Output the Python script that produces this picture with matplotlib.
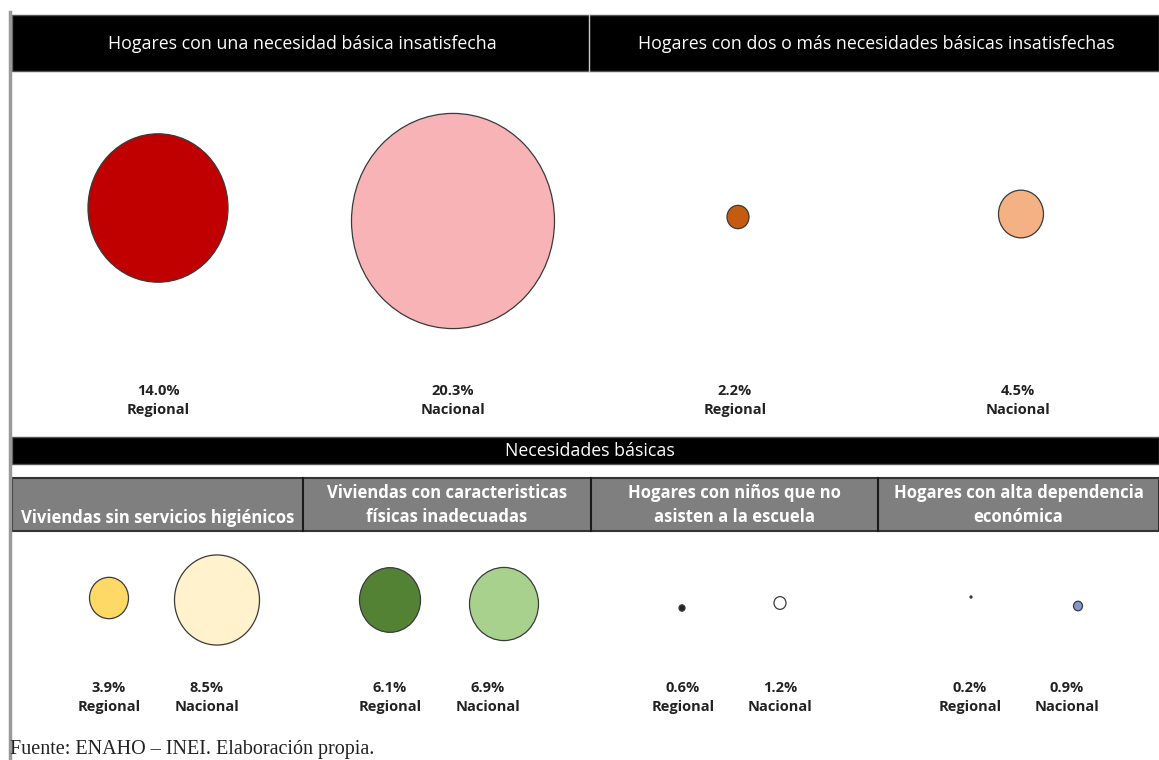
import matplotlib
matplotlib.use("Agg")
import matplotlib.pyplot as plt
from matplotlib import font_manager
from matplotlib.patches import Ellipse, Rectangle

# data (percent of households)
top_titles = ["Hogares con una necesidad básica insatisfecha",
              "Hogares con dos o más necesidades básicas insatisfechas"]
top_values = [14.0, 20.3, 2.2, 4.5]
top_scope = ["Regional", "Nacional", "Regional", "Nacional"]
top_colors = ["#C00000", "#F8B3B6", "#C55A11", "#F4B183"]

nb_title = "Necesidades básicas"
nb_categories = ["Viviendas sin servicios higiénicos",
                 "Viviendas con caracteristicas\nfísicas inadecuadas",
                 "Hogares con niños que no\nasisten a la escuela",
                 "Hogares con alta dependencia\neconómica"]
nb_regional = [3.9, 6.1, 0.6, 0.2]
nb_nacional = [8.5, 6.9, 1.2, 0.9]
nb_colors_reg = ["#FFD966", "#548235", "#262626", "#262626"]
nb_colors_nac = ["#FFF2CC", "#A9D18E", "#FFFFFF", "#8497D0"]

source = "Fuente: ENAHO – INEI. Elaboración propia."

# pick a narrow font if there is one
names = {f.name for f in font_manager.fontManager.ttflist}
narrow = "Liberation Sans Narrow" if "Liberation Sans Narrow" in names else "Open Sans"

W, H = 1159, 760
fig = plt.figure(figsize=(W / 100, H / 100), dpi=100)
ax = fig.add_axes([0, 0, 1, 1])
ax.set_xlim(0, W)
ax.set_ylim(H, 0)
ax.axis("off")

SCALE = 5.0   # px of radius per percentage point
STRETCH = 1.06

def bubble(x, y, v, color):
    r = v * SCALE
    ax.add_patch(Ellipse((x, y), 2 * r, 2 * r * STRETCH, facecolor=color,
                         edgecolor="#3a3a3a", lw=0.9))

# left frame line
ax.plot([10, 10], [12, H], color="#9a9a9a", lw=2.5)

# top header
ax.add_patch(Rectangle((12, 15), W - 12, 56, facecolor="black", edgecolor="#555555", lw=1))
ax.plot([589, 589], [15, 71], color="#cccccc", lw=1)
for t, x in zip(top_titles, [302, 876]):
    ax.text(x, 44, t, color="white", ha="center", va="center", fontsize=12.8, family=narrow)

top_x = [158, 453, 738, 1021]
top_y = [208, 221, 217, 214]
lab_x = [158, 453, 735, 1018]
for i, v in enumerate(top_values):
    bubble(top_x[i], top_y[i], v, top_colors[i])
    ax.text(lab_x[i], 391, f"{v:.1f}%", ha="center", va="center", fontsize=10.5,
            fontweight="bold", family=narrow, color="#222222")
    ax.text(lab_x[i], 410, top_scope[i], ha="center", va="center", fontsize=10.5,
            fontweight="bold", family=narrow, color="#222222")

# "Necesidades básicas" bar
ax.add_patch(Rectangle((12, 437), W - 12, 27, facecolor="black", edgecolor="#555555", lw=1))
ax.text(590, 451, nb_title, color="white", ha="center", va="center", fontsize=12.8, family=narrow)

# grey category row
ax.add_patch(Rectangle((12, 478), W - 12, 53, facecolor="#7f7f7f", edgecolor="#333333", lw=1.5))
col_edges = [12, 303, 591, 878, W]
for xe in col_edges[1:-1]:
    ax.plot([xe, xe], [478, 531], color="#1a1a1a", lw=1.5)
for i, cat in enumerate(nb_categories):
    xc = (col_edges[i] + col_edges[i + 1]) / 2
    ax.text(xc, 518 if "\n" not in cat else 505, cat, color="white", ha="center",
            va="center", fontsize=12, fontweight="bold", family=narrow, linespacing=1.5)

reg_x = [109, 390, 682, 971]
nac_x = [217, 504, 780, 1078]
reg_y = [598, 600, 608, 597]
nac_y = [600, 604, 603, 606]
reg_lx = [109, 390, 683, 970]
nac_lx = [207, 488, 780, 1067]
for i in range(len(nb_categories)):
    bubble(reg_x[i], reg_y[i], nb_regional[i], nb_colors_reg[i])
    bubble(nac_x[i], nac_y[i], nb_nacional[i], nb_colors_nac[i])
    for x, v, s in [(reg_lx[i], nb_regional[i], "Regional"), (nac_lx[i], nb_nacional[i], "Nacional")]:
        ax.text(x, 688, f"{v:.1f}%", ha="center", va="center", fontsize=10.5,
                fontweight="bold", family=narrow, color="#222222")
        ax.text(x, 707, s, ha="center", va="center", fontsize=10.5,
                fontweight="bold", family=narrow, color="#222222")

ax.text(10, 754, source, ha="left", va="baseline", fontsize=14.5,
        family="Liberation Serif", color="#222222")

fig.savefig("out.png", dpi=100)
